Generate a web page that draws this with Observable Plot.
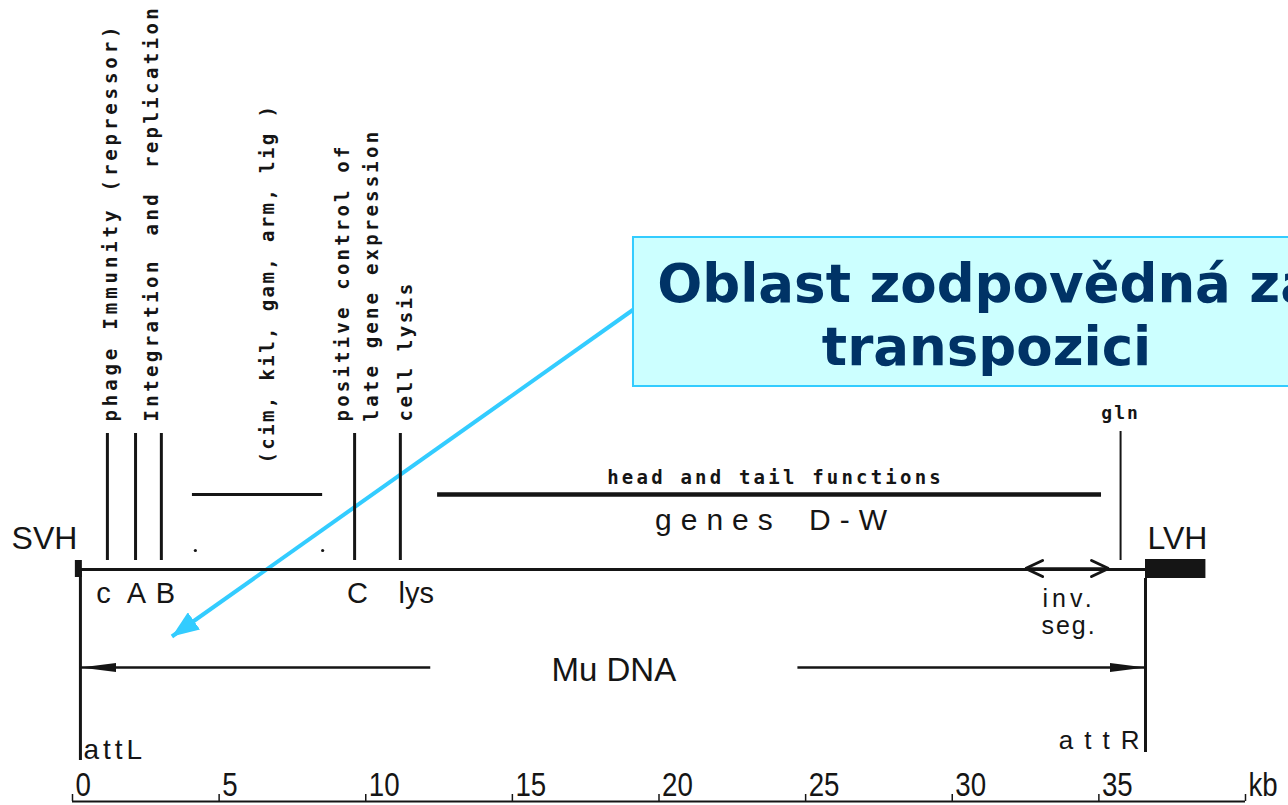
<!DOCTYPE html>
<html lang="cs">
<head>
<meta charset="utf-8">
<script src="https://cdn.jsdelivr.net/npm/d3@7"></script>
<script src="https://cdn.jsdelivr.net/npm/@observablehq/plot@0.6"></script>
<style>
  html, body { margin: 0; padding: 0; background: #fff; overflow: hidden; }
  #chart svg { display: block; overflow: hidden; }
</style>
</head>
<body>
<div id="chart"></div>
<script>
// ---------------- data: positions along the Mu genome (kb) ----------------
const kbTicks = [0, 5, 10, 15, 20, 25, 30, 35, 40];
const kbTickLabels = ["0", "5", "10", "15", "20", "25", "30", "35", "kb"];

const geneNames = ["c", "A", "B", "C", "lys"];
const genePos = [1.19, 2.15, 3.03, 9.62, 11.18];
const geneLabelPos = [1.06, 2.18, 3.17, 9.72, 11.72];

const glnName = "gln";
const glnPos = 35.74;

const functionLabels = [
  "phage Immunity (repressor)",
  "Integration and replication",
  "positive control of\nlate gene expression",
  "cell lysis"
];
const functionLabelPos = [1.19, 2.59, 9.62, 11.25];

const earlyLabel = "(cim, kil, gam, arm, lig )";
const earlyLabelPos = 6.68;
const earlyStart = 4.09, earlyEnd = 8.53;
const earlyDots = [4.19, 8.53];

const headLabel = "head and tail functions";
const headGenesLabel = "genes D-W";
const headStart = 12.45, headEnd = 35.09;

const svhPos = 0.2, attLPos = 0.27, attRPos = 36.59, lvhEnd = 38.65;
const invStart = 32.5, invEnd = 35.33;
const invLabels = ["inv.", "seg."];
const muArrows = [[12.2, attLPos], [24.72, attRPos]];
const muLabel = "Mu DNA";

const calloutText = "Oblast zodpovědná za\ntranspozici";
const calloutStart = 19.13, calloutEnd = 41.7, calloutTarget = 3.39, calloutTextPos = 31.17;

// ---------------- layout (pixel rows) and styles ----------------
const W = 1288, H = 805;
const row = {
  calloutTop: 237, calloutBottom: 386, calloutText: 313, calloutFrom: 309, calloutTo: 636,
  fnBottom: 421, earlyBottom: 463, glnText: 413, glnTop: 431, geneTop: 433,
  headText: 477, region: 494, genesText: 520, sideText: 538, dots: 550,
  geneBottom: 560, genome: 569, boxTop: 559, boxBottom: 578,
  geneText: 593, invText: [598, 625], mu: 667, muText: 670,
  attRText: 740, attLText: 750, attRBottom: 752, attLBottom: 760,
  tickText: 785, tickTop: 794, axis: 801
};
const ink = "#151515";
const mono = "DejaVu Sans Mono, monospace";
const sans = "Liberation Sans, Arial, sans-serif";
const cyan = "#33ccff";

function filledHead(len, wid) {
  return (color) => {
    const m = d3.create("svg:marker")
      .attr("viewBox", `${-len} ${-wid / 2} ${len} ${wid}`)
      .attr("markerWidth", len).attr("markerHeight", wid)
      .attr("markerUnits", "userSpaceOnUse")
      .attr("orient", "auto-start-reverse")
      .attr("refX", 0).attr("refY", 0);
    m.append("path").attr("d", `M${-len},${-wid / 2}L0,0L${-len},${wid / 2}Z`)
      .attr("fill", color).attr("stroke", "none");
    return m.node();
  };
}
function openHead(len, wid, sw) {
  return (color) => {
    const m = d3.create("svg:marker")
      .attr("viewBox", `${-len - sw} ${-wid / 2 - sw} ${len + 2 * sw} ${wid + 2 * sw}`)
      .attr("markerWidth", len + 2 * sw).attr("markerHeight", wid + 2 * sw)
      .attr("markerUnits", "userSpaceOnUse")
      .attr("orient", "auto-start-reverse")
      .attr("refX", 0).attr("refY", 0);
    m.append("path").attr("d", `M${-len},${-wid / 2}L0,0L${-len},${wid / 2}`)
      .attr("fill", "none").attr("stroke", color).attr("stroke-width", sw)
      .attr("stroke-linejoin", "miter").attr("stroke-linecap", "round");
    return m.node();
  };
}

const plot = Plot.plot({
  width: W, height: H,
  marginLeft: 72, marginRight: 43, marginTop: 0, marginBottom: 0,
  x: {domain: [0, 40], axis: null},
  y: {domain: [0, H], range: [0, H], axis: null},
  style: {background: "#fff"},
  marks: [
    // callout arrow and box
    Plot.link([{x1: calloutStart, x2: calloutTarget}], {
      x1: "x1", x2: "x2", y1: row.calloutFrom, y2: row.calloutTo,
      stroke: cyan, strokeWidth: 4, markerEnd: filledHead(27, 21)
    }),
    Plot.rect([{x1: calloutStart, x2: calloutEnd}], {
      x1: "x1", x2: "x2", y1: row.calloutTop, y2: row.calloutBottom,
      fill: "#ccffff", stroke: cyan, strokeWidth: 2
    }),
    Plot.text([calloutText], {
      x: calloutTextPos, y: row.calloutText, text: d => d,
      fontFamily: "DejaVu Sans, Verdana, sans-serif", fontWeight: "bold", fontSize: 53,
      lineHeight: 1.18, fill: "#003366", textAnchor: "middle"
    }),

    // gene loci
    Plot.ruleX(genePos, {x: d => d, y1: row.geneTop, y2: row.geneBottom, stroke: ink, strokeWidth: 3}),
    Plot.ruleX([glnPos], {x: d => d, y1: row.glnTop, y2: row.geneBottom, stroke: ink, strokeWidth: 2}),
    Plot.text(geneNames, {x: (d, i) => geneLabelPos[i], y: row.geneText, text: d => d,
      fontFamily: sans, fontSize: 29, fill: ink}),
    Plot.text([glnName], {x: glnPos, y: row.glnText, text: d => d,
      fontFamily: mono, fontWeight: "bold", fontSize: 18, fill: ink}),

    // function labels (vertical)
    Plot.text(functionLabels, {x: (d, i) => functionLabelPos[i], y: row.fnBottom, text: d => d,
      rotate: -90, textAnchor: "start", lineAnchor: "middle", lineHeight: 1.5,
      fontFamily: mono, fontWeight: "bold", fontSize: 19, fill: ink}),
    Plot.text([earlyLabel], {x: earlyLabelPos, y: row.earlyBottom, text: d => d,
      rotate: -90, textAnchor: "start", lineAnchor: "middle",
      fontFamily: mono, fontWeight: "bold", fontSize: 19, fill: ink}),

    // regions
    Plot.ruleY([row.region], {x1: earlyStart, x2: earlyEnd, y: d => d, stroke: ink, strokeWidth: 3}),
    Plot.ruleY([row.region], {x1: headStart, x2: headEnd, y: d => d, stroke: ink, strokeWidth: 4.5}),
    Plot.dot(earlyDots, {x: d => d, y: row.dots, r: 1.6, fill: ink, stroke: null}),
    Plot.text([headLabel], {x: (headStart + headEnd) / 2, y: row.headText, text: d => d, dx: 6,
      fontFamily: mono, fontWeight: "bold", fontSize: 19, fill: ink}),
    Plot.text([headGenesLabel], {x: (headStart + headEnd) / 2, y: row.genesText, text: d => d, dx: 6,
      fontFamily: sans, fontSize: 30, fill: ink}),

    // genome line and ends
    Plot.ruleY([row.genome], {x1: svhPos, x2: attRPos, y: d => d, stroke: ink, strokeWidth: 3}),
    Plot.ruleX([svhPos], {x: d => d, y1: row.geneBottom, y2: row.genome + 8, stroke: ink, strokeWidth: 7}),
    Plot.rect([{x1: attRPos, x2: lvhEnd}], {x1: "x1", x2: "x2", y1: row.boxTop, y2: row.boxBottom, fill: ink}),
    Plot.ruleX([attLPos], {x: d => d, y1: row.genome, y2: row.attLBottom, stroke: ink, strokeWidth: 3}),
    Plot.ruleX([attRPos], {x: d => d, y1: row.boxBottom, y2: row.attRBottom, stroke: ink, strokeWidth: 3}),
    Plot.text(["SVH"], {x: svhPos, y: row.sideText, text: d => d, textAnchor: "end", dx: -1,
      fontFamily: sans, fontSize: 32, fill: ink}),
    Plot.text(["LVH"], {x: attRPos, y: row.sideText, text: d => d, textAnchor: "start", dx: 2,
      fontFamily: sans, fontSize: 32, fill: ink}),

    // invertible segment
    Plot.link([{x1: invStart, x2: invEnd}], {x1: "x1", x2: "x2", y1: row.genome - 1, y2: row.genome - 1,
      stroke: ink, strokeWidth: 2.5, markerStart: openHead(17, 16, 3), markerEnd: openHead(17, 16, 3)}),
    Plot.text(invLabels, {x: (invStart + invEnd) / 2, y: (d, i) => row.invText[i], text: d => d, dx: 2,
      fontFamily: sans, fontSize: 25, fill: ink}),

    // Mu DNA
    Plot.link(muArrows, {x1: d => d[0], x2: d => d[1], y1: row.mu, y2: row.mu,
      stroke: ink, strokeWidth: 2.5, markerEnd: filledHead(36, 9)}),
    Plot.text([muLabel], {x: (muArrows[0][0] + muArrows[1][0]) / 2, y: row.muText, text: d => d,
      fontFamily: sans, fontSize: 33, fill: ink}),

    // attachment sites
    Plot.text(["attL"], {x: attLPos, y: row.attLText, text: d => d, textAnchor: "start", dx: 3,
      fontFamily: sans, fontSize: 28, fill: ink}),
    Plot.text(["attR"], {x: attRPos, y: row.attRText, text: d => d, textAnchor: "end", dx: 5,
      fontFamily: sans, fontSize: 26, fill: ink}),

    // kb scale
    Plot.ruleY([row.axis], {x1: 0, x2: 40, y: d => d, stroke: ink, strokeWidth: 2}),
    Plot.ruleX(kbTicks, {x: d => d, y1: row.tickTop, y2: row.axis, stroke: ink, strokeWidth: 1.5}),
    Plot.text(kbTickLabels, {x: (d, i) => kbTicks[i], y: row.tickText, text: d => d, textAnchor: "start", dx: 3,
      fontFamily: sans, fontSize: 33, fill: ink})
  ]
});

// typographic touches the reference shows (letter spacing, condensed scale numerals)
const spacingRules = [
  ["phage", "3.9px", "0px"],
  ["Integration", "3.4px", "8px"],
  ["(cim", "2.4px", "0px"],
  ["positive", "3.2px", "0px"],
  ["cell lysis", "2.6px", "0px"],
  ["head and", "3.2px", "0px"],
  ["gln", "2px", "0px"],
  ["genes", "9px", "10px"],
  ["inv.", "4px", "0px"],
  ["seg.", "2px", "0px"],
  ["attL", "4px", "0px"],
  ["attR", "11px", "0px"]
];
d3.select(plot).selectAll("text").each(function () {
  const t = this.textContent;
  const rule = spacingRules.find(([p]) => t.startsWith(p));
  if (rule) d3.select(this).style("letter-spacing", rule[1]).style("word-spacing", rule[2]);
  if (kbTickLabels.includes(t)) {
    let tr = this.getAttribute("transform");
    if (!tr) {
      tr = `translate(${this.getAttribute("x") || 0},${this.getAttribute("y") || 0})`;
      this.removeAttribute("x"); this.removeAttribute("y");
    }
    this.setAttribute("transform", tr + " scale(0.84,1)");
  }
});
document.getElementById("chart").appendChild(plot);
</script>
</body>
</html>
